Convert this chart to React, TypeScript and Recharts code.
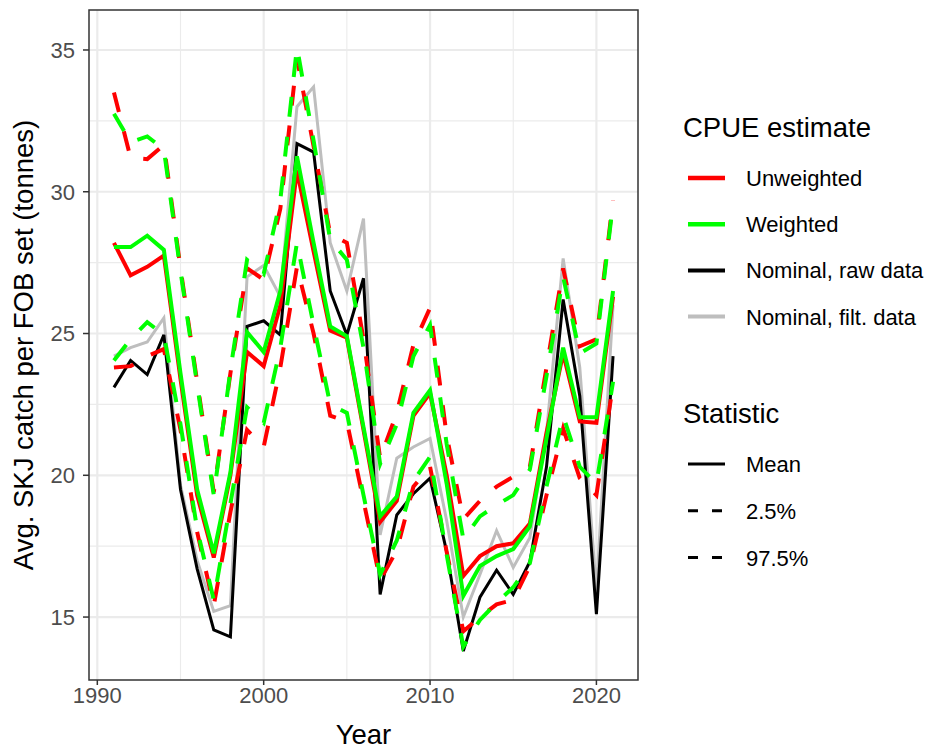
import { LineChart, Line, XAxis, YAxis, CartesianGrid, ReferenceArea } from 'recharts';

const FONT = '"Liberation Sans", Arial, Helvetica, sans-serif';

const years = [
  1991, 1992, 1993, 1994, 1995, 1996, 1997, 1998, 1999, 2000, 2001, 2002, 2003, 2004, 2005, 2006,
  2007, 2008, 2009, 2010, 2011, 2012, 2013, 2014, 2015, 2016, 2017, 2018, 2019, 2020, 2021,
];

// CPUE estimates (tonnes per FOB set)
const unweightedMean = [
  28.2, 27.05, 27.35, 27.75, 23.4, 19.3, 17.1, 20.0, 24.35, 23.85, 26.0, 30.75, 27.9, 25.1, 24.85, 21.6,
  18.35, 19.1, 22.1, 22.9, 20.0, 16.45, 17.15, 17.5, 17.6, 18.3, 21.5, 24.3, 21.9, 21.85, 26.3,
];
const unweightedLower = [
  23.8, 23.85, 24.2, 24.45, 21.6, 18.0, 15.4, 18.7, 21.6, 21.0, 23.8, 27.35, 25.0, 22.1, 21.9, 19.1,
  16.3, 17.35, 19.6, 20.3, 17.3, 14.5, 15.0, 15.45, 15.6, 16.8, 19.3, 21.65, 19.9, 19.3, 23.2,
];
const unweightedUpper = [
  33.5, 31.2, 31.15, 31.65, 27.3, 23.3, 19.4, 23.6, 27.3, 26.9, 29.4, 34.7, 31.6, 28.5, 28.2, 24.8,
  20.6, 22.2, 24.6, 25.9, 21.4, 18.45, 19.1, 19.6, 19.95, 20.3, 23.8, 27.3, 24.55, 24.8, 29.7,
];
const weightedMean = [
  28.05, 28.05, 28.45, 27.95, 23.6, 19.5, 17.25, 20.1, 25.05, 24.35, 26.5, 31.25, 28.2, 25.25, 24.9, 21.7,
  18.55, 19.25, 22.2, 23.0, 19.7, 15.75, 16.8, 17.15, 17.4, 18.2, 21.3, 24.5, 22.05, 22.05, 26.5,
];
const weightedLower = [
  24.05, 24.8, 25.4, 24.95, 21.8, 18.1, 15.6, 19.0, 22.4, 21.85, 24.5, 28.2, 25.3, 22.5, 22.2, 19.3,
  16.5, 17.7, 19.8, 20.65, 17.2, 13.95, 14.9, 15.5, 16.05, 16.9, 19.6, 22.1, 20.3, 19.7, 23.3,
];
const weightedUpper = [
  32.75, 31.75, 31.95, 31.5, 27.2, 23.2, 19.3, 23.7, 27.6, 27.1, 29.7, 35.1, 31.8, 28.3, 27.6, 24.5,
  20.4, 21.8, 24.2, 25.3, 21.1, 17.75, 18.55, 18.95, 19.3, 20.2, 23.5, 27.0, 24.3, 24.65, 29.6,
];

// Nominal CPUE
const nominalRaw = [
  23.1, 24.05, 23.55, 24.95, 19.5, 16.7, 14.55, 14.3, 25.25, 25.45, 24.95, 31.7, 31.4, 26.5, 24.95, 26.95,
  15.8, 18.6, 19.35, 19.9, 17.3, 13.8, 15.7, 16.65, 15.8, 16.95, 20.3, 26.2, 22.8, 15.1, 24.2,
];
const nominalFilt = [
  24.2, 24.5, 24.7, 25.55, 19.65, 17.0, 15.2, 15.4, 27.0, 27.4, 26.3, 33.0, 33.7, 28.2, 26.5, 29.05,
  17.9, 20.6, 21.0, 21.3, 18.4, 15.0, 16.5, 18.05, 16.75, 17.8, 21.5, 27.65, 23.8, 15.9, 26.0,
];

const xTicks = [1990, 2000, 2010, 2020];
const xMinor = [1995, 2005, 2015];
const yTicks = [15, 20, 25, 30, 35];
const yMinor = [17.5, 22.5, 27.5, 32.5];
const xDomain: [number, number] = [1989.5, 2022.5];
const yDomain: [number, number] = [12.78, 36.41];

const colourLegend = [
  { label: 'Unweighted', color: '#FF0000', width: 4.5 },
  { label: 'Weighted', color: '#00FF00', width: 4.5 },
  { label: 'Nominal, raw data', color: '#000000', width: 4 },
  { label: 'Nominal, filt. data', color: '#BEBEBE', width: 4 },
];
const statLegend = [
  { label: 'Mean', dash: undefined },
  { label: '2.5%', dash: '10 14' },
  { label: '97.5%', dash: '10 14' },
];

const data = years.map((year, i) => ({
  year,
  uwMean: unweightedMean[i],
  uwLower: unweightedLower[i],
  uwUpper: unweightedUpper[i],
  wMean: weightedMean[i],
  wLower: weightedLower[i],
  wUpper: weightedUpper[i],
  raw: nominalRaw[i],
  filt: nominalFilt[i],
}));

const DASH = '20 20';

function Legend() {
  return (
    <svg width={297} height={751} style={{ position: 'absolute', left: 640, top: 0 }} fontFamily={FONT}>
      <text x={43} y={137} fontSize={27.5} fill="#000">CPUE estimate</text>
      {colourLegend.map((d, i) => {
        const cy = 178 + i * 46.2;
        return (
          <g key={d.label}>
            <line x1={48} x2={85} y1={cy} y2={cy} stroke={d.color} strokeWidth={d.width} />
            <text x={106} y={cy + 8} fontSize={22} fill="#000">{d.label}</text>
          </g>
        );
      })}
      <text x={43} y={423} fontSize={27.5} fill="#000">Statistic</text>
      {statLegend.map((d, i) => {
        const cy = 464 + i * 46.8;
        return (
          <g key={d.label}>
            <line x1={48} x2={85} y1={cy} y2={cy} stroke="#000" strokeWidth={3} strokeDasharray={d.dash} />
            <text x={106} y={cy + 8} fontSize={22} fill="#000">{d.label}</text>
          </g>
        );
      })}
    </svg>
  );
}

export default function App() {
  return (
    <div style={{ position: 'absolute', left: 0, top: 0, width: 937, height: 751, background: '#fff', fontFamily: FONT }}>
      <LineChart width={650} height={751} data={data} margin={{ top: 10, right: 12, bottom: 11, left: 29 }}>
        <CartesianGrid stroke="#EBEBEB" strokeWidth={1.1} horizontalValues={yMinor} verticalValues={xMinor} />
        <CartesianGrid stroke="#EBEBEB" strokeWidth={2.2} horizontalValues={yTicks} verticalValues={xTicks} />
        <XAxis
          dataKey="year"
          type="number"
          domain={xDomain}
          ticks={xTicks}
          allowDataOverflow
          height={60}
          axisLine={false}
          tickSize={5}
          tickMargin={2}
          tickLine={{ stroke: '#333333', strokeWidth: 1.5 }}
          tick={{ fill: '#4D4D4D', fontSize: 22, fontFamily: FONT }}
        />
        <YAxis
          type="number"
          domain={yDomain}
          ticks={yTicks}
          allowDataOverflow
          width={60}
          axisLine={false}
          tickSize={6}
          tickMargin={8}
          tickLine={{ stroke: '#333333', strokeWidth: 1.5 }}
          tick={{ fill: '#4D4D4D', fontSize: 22, fontFamily: FONT }}
        />
        <Line dataKey="filt" stroke="#BEBEBE" strokeWidth={3} dot={false} isAnimationActive={false} />
        <Line dataKey="raw" stroke="#000000" strokeWidth={3} dot={false} isAnimationActive={false} />
        <Line dataKey="uwMean" stroke="#FF0000" strokeWidth={4} dot={false} isAnimationActive={false} />
        <Line dataKey="uwLower" stroke="#FF0000" strokeWidth={4} strokeDasharray={DASH} dot={false} isAnimationActive={false} />
        <Line dataKey="uwUpper" stroke="#FF0000" strokeWidth={4} strokeDasharray={DASH} dot={false} isAnimationActive={false} />
        <Line dataKey="wMean" stroke="#00FF00" strokeWidth={4} dot={false} isAnimationActive={false} />
        <Line dataKey="wLower" stroke="#00FF00" strokeWidth={4} strokeDasharray={DASH} dot={false} isAnimationActive={false} />
        <Line dataKey="wUpper" stroke="#00FF00" strokeWidth={4} strokeDasharray={DASH} dot={false} isAnimationActive={false} />
        <ReferenceArea
          x1={xDomain[0]}
          x2={xDomain[1]}
          y1={yDomain[0]}
          y2={yDomain[1]}
          fill="none"
          stroke="#333333"
          strokeWidth={1.5}
          ifOverflow="visible"
        />
      </LineChart>
      <div
        style={{
          position: 'absolute',
          left: 24 - 345,
          top: 345 - 16,
          width: 690,
          height: 32,
          lineHeight: '32px',
          textAlign: 'center',
          fontSize: 27.5,
          transform: 'rotate(-90deg)',
          color: '#000',
        }}
      >
        Avg. SKJ catch per FOB set (tonnes)
      </div>
      <div
        style={{
          position: 'absolute',
          left: 89,
          width: 549,
          top: 719,
          height: 31,
          lineHeight: '31px',
          textAlign: 'center',
          fontSize: 27.5,
          color: '#000',
        }}
      >
        Year
      </div>
      <Legend />
    </div>
  );
}
